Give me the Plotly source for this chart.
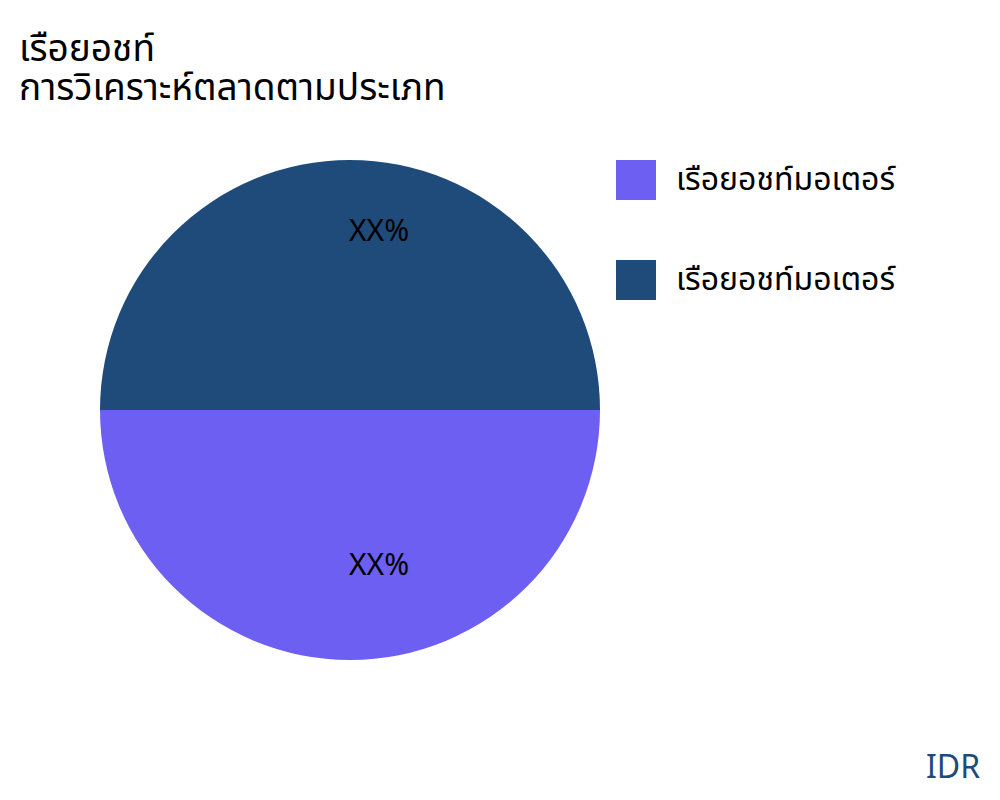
import math
import plotly.graph_objects as go

title_lines = ["เรือยอชท์", "การวิเคราะห์ตลาดตามประเภท"]
labels = ["เรือยอชท์มอเตอร์", "เรือยอชท์มอเตอร์\u200b"]
values = [50, 50]
slice_text = ["XX%", "XX%"]
colors = ["#6C5FF2", "#1F4B7A"]
currency = "IDR"

FONT = "Noto Sans Thai, Noto Sans, sans-serif"
W, H = 1000, 800
dom_x = [92 / W, 592 / W]
dom_y = [1 - 652 / H, 1 - 152 / H]

fig = go.Figure(go.Pie(
    labels=labels,
    values=values,
    textinfo="none",
    marker=dict(colors=colors),
    sort=False,
    direction="clockwise",
    rotation=90,
    showlegend=False,
    hoverinfo="label+value",
    domain=dict(x=dom_x, y=dom_y),
))

# slice labels at 2/3 of the radius, from the slice mid-angles
cx = (dom_x[0] + dom_x[1]) / 2
cy = (dom_y[0] + dom_y[1]) / 2
rx = (dom_x[1] - dom_x[0]) / 2
ry = (dom_y[1] - dom_y[0]) / 2
total = sum(values)
start = 180.0
for v, t in zip(values, slice_text):
    mid = math.radians(start + 360 * v / total / 2)
    start += 360 * v / total
    fig.add_annotation(text=t, xref="paper", yref="paper",
                       x=cx + rx * 2 / 3 * math.cos(mid),
                       y=cy + ry * 2 / 3 * math.sin(mid),
                       xanchor="left", yanchor="middle", xshift=-3, yshift=11,
                       showarrow=False,
                       font=dict(size=30, color="black", family=FONT))

# legend drawn by hand so the swatches can be large
for i, (lab, col) in enumerate(zip(labels, colors)):
    top = 152 + i * 100
    fig.add_shape(type="rect", xref="paper", yref="paper",
                  x0=608 / W, x1=648 / W,
                  y0=1 - (top + 40) / H, y1=1 - top / H,
                  fillcolor=col, line=dict(width=0))
    fig.add_annotation(text=lab.replace("\u200b", ""), xref="paper", yref="paper",
                       x=666 / W, y=1 - (top + 20) / H,
                       xanchor="left", yanchor="middle", showarrow=False,
                       font=dict(size=32, color="black", family=FONT))

# two-line title, kept as separate lines for tight spacing
for i, line in enumerate(title_lines):
    fig.add_annotation(text=line, xref="paper", yref="paper",
                       x=9 / W, y=1 - (42 + i * 39) / H,
                       xanchor="left", yanchor="middle", showarrow=False,
                       font=dict(size=37, color="black", family=FONT))

fig.add_annotation(text=currency, xref="paper", yref="paper",
                   x=974 / W, y=1 - 760 / H, xanchor="right", yanchor="middle",
                   showarrow=False, font=dict(size=32, color="#1F4B7A", family=FONT))

fig.update_layout(
    width=W, height=H,
    margin=dict(l=0, r=0, t=0, b=0),
    paper_bgcolor="white",
    font=dict(family=FONT, color="black"),
)

fig.write_html("out.html")
